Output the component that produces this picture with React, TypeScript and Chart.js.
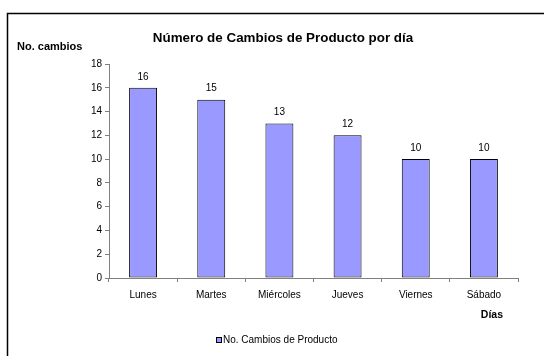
import React, { useEffect, useRef } from "react";
import { Chart, registerables } from "chart.js";

Chart.register(...registerables);

const categories = ["Lunes", "Martes", "Miércoles", "Jueves", "Viernes", "Sábado"];
const seriesName = "No. Cambios de Producto";
const values = [16, 15, 13, 12, 10, 10];
const yTicks = [0, 2, 4, 6, 8, 10, 12, 14, 16, 18];
const chartTitle = "Número de Cambios de Producto por día";
const yAxisTitle = "No. cambios";
const xAxisTitle = "Días";

const FONT = "'Liberation Sans', Arial, sans-serif";
const BAR_FILL = "#9999FF";

const decorPlugin = {
  id: "decor",
  afterDraw(chart: any) {
    const ctx = chart.ctx as CanvasRenderingContext2D;
    ctx.save();
    // outer frame
    ctx.strokeStyle = "#000";
    ctx.lineWidth = 1.5;
    ctx.beginPath();
    ctx.moveTo(7.5, 360);
    ctx.lineTo(7.5, 13.5);
    ctx.lineTo(550, 13.5);
    ctx.stroke();

    // title
    ctx.fillStyle = "#000";
    ctx.textBaseline = "middle";
    ctx.textAlign = "center";
    ctx.font = `bold 13.4px ${FONT}`;
    ctx.fillText(chartTitle, 283, 38);

    // y-axis title
    ctx.textAlign = "left";
    ctx.font = `bold 11px ${FONT}`;
    ctx.fillText(yAxisTitle, 17, 47);

    // x-axis title
    ctx.textAlign = "right";
    ctx.font = `bold 10.5px ${FONT}`;
    ctx.fillText(xAxisTitle, 503, 315);

    // value labels
    ctx.textAlign = "center";
    ctx.font = `10px ${FONT}`;
    const meta = chart.getDatasetMeta(0);
    meta.data.forEach((bar: any, i: number) => {
      ctx.fillText(String(values[i]), bar.x, bar.y - 11);
    });

    // legend
    const lx = 216.5;
    const ly = 337.5;
    ctx.fillStyle = BAR_FILL;
    ctx.fillRect(lx, ly, 5, 5);
    ctx.strokeStyle = "#000";
    ctx.lineWidth = 1;
    ctx.strokeRect(lx, ly, 5, 5);
    ctx.fillStyle = "#000";
    ctx.textAlign = "left";
    ctx.font = `10px ${FONT}`;
    ctx.fillText(seriesName, 223, 340.5);
    ctx.restore();
  },
};

export default function App() {
  const ref = useRef<HTMLCanvasElement>(null);
  useEffect(() => {
    if (!ref.current) return;
    const chart = new Chart(ref.current, {
      type: "bar",
      data: {
        labels: categories,
        datasets: [
          {
            label: seriesName,
            data: values,
            backgroundColor: BAR_FILL,
            borderColor: "#000",
            borderWidth: 1,
            borderSkipped: false,
            barPercentage: 1,
            categoryPercentage: 0.41,
          },
        ],
      },
      options: {
        responsive: false,
        animation: false,
        devicePixelRatio: 1,
        layout: { padding: { left: 64, right: 26, top: 64, bottom: 48 } },
        plugins: {
          legend: { display: false },
          title: { display: false },
          tooltip: { enabled: false },
        },
        scales: {
          x: {
            grid: {
              offset: true,
              drawOnChartArea: false,
              drawTicks: true,
              tickLength: 4,
              color: "#808080",
            },
            border: { display: true, color: "#808080", width: 1 },
            ticks: {
              color: "#000",
              font: { family: FONT, size: 10 },
              padding: 7,
              maxRotation: 0,
              autoSkip: false,
            },
            afterFit(scale: any) {
              scale.height = 30;
            },
          },
          y: {
            min: 0,
            max: 18,
            afterBuildTicks(scale: any) {
              scale.ticks = yTicks.map((v) => ({ value: v }));
            },
            grid: {
              drawOnChartArea: false,
              drawTicks: true,
              tickLength: 4,
              color: "#808080",
            },
            border: { display: true, color: "#808080", width: 1 },
            ticks: {
              color: "#000",
              font: { family: FONT, size: 10 },
              padding: 3,
            },
            afterFit(scale: any) {
              scale.width = 45;
            },
          },
        },
      },
      plugins: [decorPlugin],
    });
    return () => chart.destroy();
  }, []);
  return (
    <div style={{ position: "fixed", left: 0, top: 0, width: 544, height: 356, background: "#fff" }}>
      <canvas ref={ref} width={544} height={356} style={{ display: "block" }} />
    </div>
  );
}
